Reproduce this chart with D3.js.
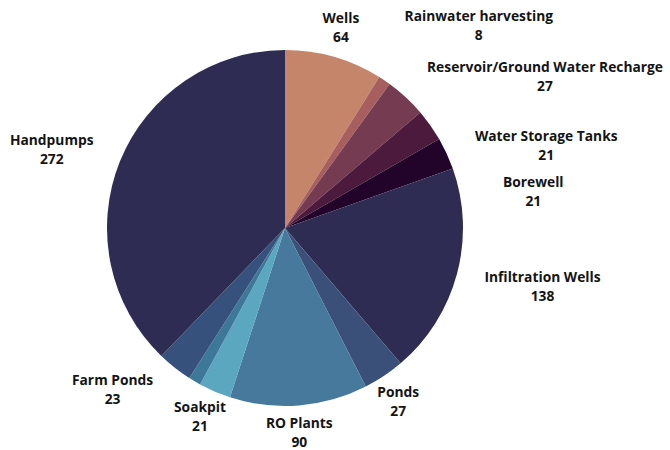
<!DOCTYPE html>
<html><head><meta charset="utf-8">
<script src="https://cdn.jsdelivr.net/npm/d3@7"></script>
<style>html,body{margin:0;padding:0;background:#fff;}svg{display:block;}</style>
</head><body><svg id="c" width="670" height="450"></svg>
<script>
const categories = ["Wells","Rainwater harvesting","Reservoir/Ground Water Recharge","Water Storage Tanks","Borewell","Infiltration Wells","Ponds","RO Plants","Soakpit","","Farm Ponds","Handpumps"];
const values = [64,8,27,21,21,138,27,90,21,8,23,272];
const colors = ["#c4856a","#a65f5e","#743b51","#4c1a3d","#22042a","#2e2c52","#3a5078","#46799c","#5aa7bf","#3d7899","#36517b","#2e2c52"];
// label layout: [angle shift (deg) from slice middle, distance from centre]
const labelLayout = [[-0.4,208],[9.8,280],[17,301],[17.7,274],[16.3,251],[-2.3,264],[0.6,207],[0.5,205],[1,207],[0,0],[8.7,236],[-3.5,246]];

const svg = d3.select("#c");
const cx = 285, cy = 228, R = 178;
const g = svg.append("g").attr("transform", `translate(${cx},${cy})`);
const data = categories.map((c,i)=>({name:c, value:values[i], color:colors[i], i}));
const pie = d3.pie().value(d=>d.value).sort(null);
const arc = d3.arc().innerRadius(0).outerRadius(R);
const arcs = pie(data);
g.selectAll("path").data(arcs).join("path")
  .attr("d", arc).attr("fill", d=>d.data.color);

const lab = g.selectAll("text").data(arcs.filter(d=>d.data.name!=="")).join("text")
  .attr("text-anchor","middle")
  .style("font-family","'Open Sans', 'Noto Sans', sans-serif")
  .style("font-weight","700").style("font-size","13.8px").attr("fill","#141414");
lab.each(function(d){
  const L = labelLayout[d.data.i];
  const a = (d.startAngle+d.endAngle)/2 + L[0]*Math.PI/180;
  const x = Math.sin(a)*L[1], y = -Math.cos(a)*L[1];
  const t = d3.select(this);
  t.append("tspan").attr("x",x).attr("y",y-4.5).text(d.data.name);
  t.append("tspan").attr("x",x).attr("y",y+14.5).text(d.data.value);
});
</script></body></html>
